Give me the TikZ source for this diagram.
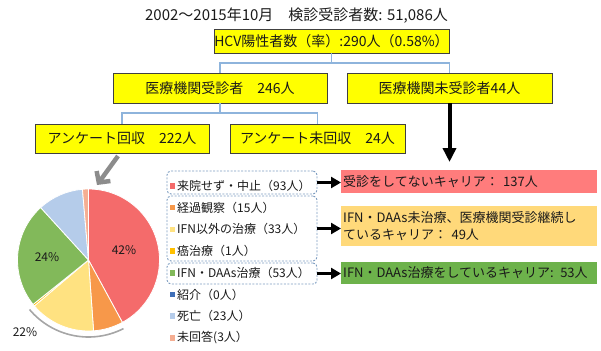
\documentclass[tikz,border=0pt]{standalone}
\usepackage{fontspec}
\setmainfont{Noto Sans CJK JP}
\usetikzlibrary{arrows.meta,calc}
\definecolor{yfill}{HTML}{FFFF00}
\definecolor{bborder}{HTML}{404040}
\definecolor{connblue}{HTML}{8EB4DC}
\definecolor{dashblue}{HTML}{7C9CC0}
\definecolor{pred}{HTML}{F46B6B}
\definecolor{porange}{HTML}{F7984A}
\definecolor{plyellow}{HTML}{FFE281}
\definecolor{pdyellow}{HTML}{FFC000}
\definecolor{pgreen}{HTML}{82B95A}
\definecolor{pblue}{HTML}{3F6FB8}
\definecolor{plblue}{HTML}{B5CCEA}
\definecolor{psalmon}{HTML}{F5AE92}
\definecolor{cred}{HTML}{FF7C7C}
\definecolor{corange}{HTML}{FFD97A}
\definecolor{cgreen}{HTML}{6DB24B}
\definecolor{garrow}{HTML}{8C8C8C}
\definecolor{garc}{HTML}{A6A6A6}
\definecolor{txt}{HTML}{1A1A1A}
\begin{document}
\begin{tikzpicture}[x=1pt,y=-1pt,
  every node/.style={text=txt},
  ybox/.style={draw=bborder, fill=yfill, line width=0.8pt, inner sep=0pt, font=\fontsize{14}{16}\selectfont},
  conn/.style={draw=connblue, line width=1.2pt},
  dbox/.style={draw=dashblue, dash pattern=on 2pt off 1.5pt, rounded corners=4pt, line width=0.9pt, inner sep=0pt, minimum width=150pt},
  cbox/.style={anchor=north west, inner xsep=2pt, inner ysep=0pt, minimum width=256pt, text width=252pt, align=left, font=\fontsize{13}{17}\selectfont},
  legsq/.style={minimum size=5.5pt, inner sep=0pt},
  legtext/.style={anchor=west, inner sep=0pt, font=\fontsize{12}{14}\selectfont},
  pct/.style={font=\fontsize{12}{14}\selectfont},
  bigarrow/.style={line width=4pt, -{Triangle[length=14pt,width=13pt]}},
  sarrow/.style={line width=3.5pt, -{Triangle[length=10pt,width=11pt]}},
  grayarrow/.style={draw=garrow, line width=4.5pt, -{Straight Barb[length=8pt,width=17pt]}},
  slice/.style={draw=white, line width=0.8pt}
]
\useasboundingbox (0,0) rectangle (601,350);

% title
\node[font=\fontsize{15}{18}\selectfont] (title) at (296.5,16) {2002～2015年10月　検診受診者数: 51,086人};

% yellow boxes
\node[ybox, minimum width=235pt, minimum height=24pt] (hcv) at (331.5,41) {HCV陽性者数（率）:290人（0.58\%）};
\node[ybox, minimum width=214pt, minimum height=30pt] (b2) at (220,88) {医療機関受診者　246人};
\node[ybox, minimum width=205pt, minimum height=30pt] (b3) at (449.5,88) {医療機関未受診者44人};
\node[ybox, minimum width=174pt, minimum height=29pt] (b4) at (122,138.5) {アンケート回収　222人};
\node[ybox, minimum width=175pt, minimum height=29pt] (b5) at (317.5,138.5) {アンケート未回収　24人};

% connectors
\coordinate (j1) at (331.5,63);
\coordinate (j2) at (220,113);
\draw[conn] (hcv.south) -- (j1);
\draw[conn] (b2.north) -- (b2.north |- j1) -- (b3.north |- j1) -- (b3.north);
\draw[conn] (b2.south) -- (j2);
\draw[conn] (b4.north) -- (b4.north |- j2) -- (b5.north |- j2) -- (b5.north);

% big arrow
\coordinate (bigtip) at (449.5,162);
\draw[bigarrow] (b3.south) -- (bigtip);

% pie
\coordinate (pc) at (88.5,260);
\foreach \a/\b/\c in {-90/61.49/pred, 61.49/85.92/porange, 85.92/139.68/plyellow, 139.68/141.31/pdyellow, 141.31/227.64/pgreen, 227.64/265.11/plblue, 265.11/270/psalmon}{
  \fill[\c, slice] (pc) -- ++(\a:71) arc[start angle=\a, end angle=\b, radius=71] -- cycle;
}
\draw[garc, line width=1.6pt] ($(pc)+(63:77)$) arc[start angle=63, end angle=140, radius=77];
\node[pct] (p42) at (124,250) {42\%};
\node[pct] (p24) at (47,257) {24\%};
\node[pct] (p22) at (25,332) {22\%};

% gray arrow
\coordinate (ga1) at (118,156);
\coordinate (ga2) at (97,185);
\draw[grayarrow] (ga1) -- (ga2);

% legend dashed boxes
\node[dbox, minimum height=23pt] (d1) at (242,182.5) {};
\node[dbox, minimum height=65pt] (d2) at (242,228.5) {};
\node[dbox, minimum height=21pt] (d3) at (242,273.5) {};

% legend
\foreach \i/\c/\t in {0/pred/来院せず・中止（93人）, 1/porange/経過観察（15人）, 2/plyellow/IFN以外の治療（33人）, 3/pdyellow/癌治療（1人）, 4/pgreen/IFN・DAAs治療（53人）, 5/pblue/紹介（0人）, 6/plblue/死亡（23人）, 7/psalmon/未回答(3人）}{
  \node[legsq, fill=\c] (s\i) at (172.5,{186+21.7*\i}) {};
  \node[legtext] (l\i) at (177,{186+21.7*\i}) {\t};
}

% coloured boxes
\node[cbox, fill=cred, minimum height=22.5pt] (c1) at (341,170) {受診をしてないキャリア： 137人};
\node[cbox, fill=corange, minimum height=40pt] (c2) at (341,206) {IFN・DAAs未治療、医療機関受診継続し\\ているキャリア： 49人};
\node[cbox, fill=cgreen, minimum height=21.5pt] (c3) at (341,262) {IFN・DAAs治療をしているキャリア: 53人};

% small arrows
\draw[sarrow] (d1.east) -- (d1.east -| c1.west);
\draw[sarrow] (d2.east) -- (d2.east -| c2.west);
\draw[sarrow] (d3.east) -- (d3.east -| c3.west);
\end{tikzpicture}
\end{document}
